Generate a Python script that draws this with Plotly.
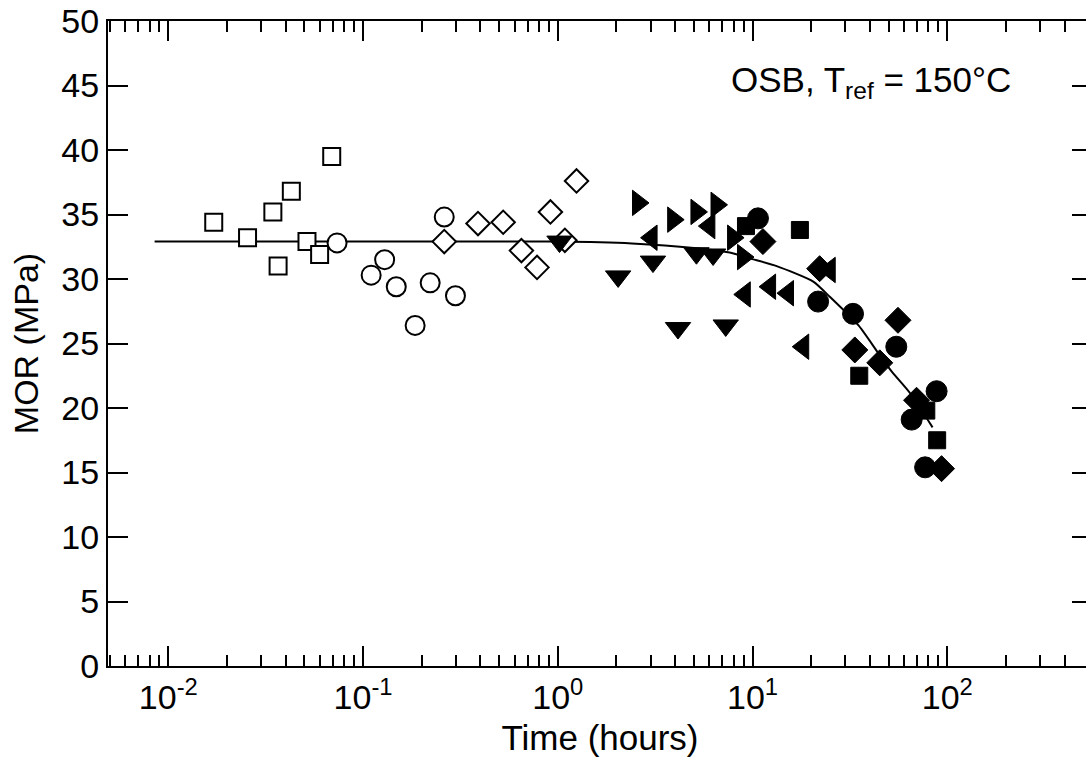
import plotly.graph_objects as go

# ---------------- data ----------------
sq_open_t = [0.0171, 0.0255, 0.0344, 0.0428, 0.0366, 0.0515, 0.0598, 0.069]
sq_open_y = [34.4, 33.2, 35.2, 36.8, 31.0, 32.9, 31.9, 39.5]

ci_open_t = [0.0735, 0.129, 0.110, 0.148, 0.261, 0.221, 0.298, 0.185]
ci_open_y = [32.8, 31.5, 30.3, 29.4, 34.8, 29.7, 28.7, 26.4]

di_open_t = [0.261, 0.389, 0.524, 0.650, 0.782, 0.916, 1.247, 1.087]
di_open_y = [32.9, 34.3, 34.4, 32.2, 30.9, 35.2, 37.6, 33.0]

tri_down_t = [1.02, 2.04, 3.08, 5.15, 6.27, 4.14, 7.28]
tri_down_y = [32.9, 30.2, 31.35, 32.0, 31.9, 26.2, 26.4]

tri_right_t = [2.58, 3.91, 5.15, 6.53, 7.94, 8.93]
tri_right_y = [35.9, 34.6, 35.2, 35.75, 33.2, 31.7]

tri_left_t = [3.03, 6.0, 9.12, 12.3, 15.2, 18.2, 24.9]
tri_left_y = [33.2, 34.1, 28.8, 29.4, 28.9, 24.75, 30.7]

ci_fill_t = [10.66, 21.7, 32.8, 54.7, 88.1, 65.6, 76.9]
ci_fill_y = [34.7, 28.25, 27.3, 24.75, 21.3, 19.1, 15.4]

sq_fill_t = [9.25, 17.5, 35.3, 78.0, 88.7]
sq_fill_y = [34.1, 33.8, 22.5, 19.8, 17.5]

di_fill_t = [11.3, 22.1, 33.5, 45.0, 55.8, 69.5, 93.4]
di_fill_y = [32.9, 30.8, 24.5, 23.5, 26.8, 20.6, 15.3]

curve_t = [0.0085, 0.1, 1.0, 2.4, 5.0, 7.9, 9.7, 13.3, 20.5, 25.0, 35.0, 44.0, 52.0, 64.0, 84.0]
curve_y = [32.9, 32.9, 32.9, 32.75, 32.4, 32.0, 31.6, 31.0, 29.8, 28.6, 26.4, 24.3, 22.8, 21.2, 18.5]

major_x = [0.01, 0.1, 1, 10, 100]
major_x_text = ["10<sup>-2</sup>", "10<sup>-1</sup>", "10<sup>0</sup>", "10<sup>1</sup>", "10<sup>2</sup>"]
y_ticks = [0, 5, 10, 15, 20, 25, 30, 35, 40, 45, 50]

FONT = "Liberation Sans, Arial, Helvetica, sans-serif"

fig = go.Figure()

fig.add_trace(go.Scatter(x=curve_t, y=curve_y, mode="lines",
                         line=dict(color="black", width=2, shape="spline", smoothing=0.6),
                         showlegend=False))

def add(t, y, symbol, filled, size):
    fig.add_trace(go.Scatter(
        x=t, y=y, mode="markers", showlegend=False,
        marker=dict(symbol=symbol, size=size,
                    color="black" if filled else "white",
                    line=dict(color="black", width=1 if filled else 2))))

add(sq_open_t, sq_open_y, "square", False, 17)
add(ci_open_t, ci_open_y, "circle", False, 19)
add(di_open_t, di_open_y, "diamond", False, 18)
add(tri_down_t, tri_down_y, "triangle-down", True, 22)
add(tri_right_t, tri_right_y, "triangle-right", True, 22)
add(tri_left_t, tri_left_y, "triangle-left", True, 22)
add(ci_fill_t, ci_fill_y, "circle", True, 21)
add(sq_fill_t, sq_fill_y, "square", True, 17)
add(di_fill_t, di_fill_y, "diamond", True, 20)

# minor tick positions on the log axis
minor_x = [m * 10.0 ** e for e in range(-3, 3) for m in range(2, 10)]
minor_x = [v for v in minor_x if 0.005 <= v <= 450]

fig.update_xaxes(
    type="log", range=[-2.31, 2.743], automargin=False,
    tickmode="array", tickvals=major_x, ticktext=major_x_text,
    ticks="inside", ticklen=20, tickwidth=2, tickcolor="black",
    minor=dict(tickmode="array", tickvals=minor_x, ticks="inside",
               ticklen=11, tickwidth=2, tickcolor="black", showgrid=False),
    showline=True, linecolor="black", linewidth=2, mirror="allticks",
    showgrid=False, zeroline=False,
    tickfont=dict(family=FONT, size=34, color="black"),
    title=dict(text="Time (hours)", font=dict(family=FONT, size=35, color="black"), standoff=11),
)
fig.update_yaxes(
    range=[0, 50], tickmode="array", tickvals=y_ticks, automargin=False,
    ticks="inside", ticklen=20, tickwidth=2, tickcolor="black",
    showline=True, linecolor="black", linewidth=2, mirror="allticks",
    showgrid=False, zeroline=False,
    tickfont=dict(family=FONT, size=34, color="black"),
    title=dict(text="MOR (MPa)", font=dict(family=FONT, size=34, color="black"), standoff=12),
)

fig.add_annotation(
    text="OSB, T<sub>ref</sub> = 150°C", xref="paper", yref="paper",
    x=0.92, y=0.905, xanchor="right", yanchor="middle", showarrow=False,
    font=dict(family=FONT, size=35, color="black"))

fig.update_layout(
    width=1100, height=766,
    margin=dict(l=108, r=8, t=21, b=100),
    paper_bgcolor="white", plot_bgcolor="white",
)

fig.write_html(
    "out.html",
    config={"displayModeBar": False, "staticPlot": True},
    post_script="document.body.style.margin='0';document.body.style.overflow='hidden';",
)
